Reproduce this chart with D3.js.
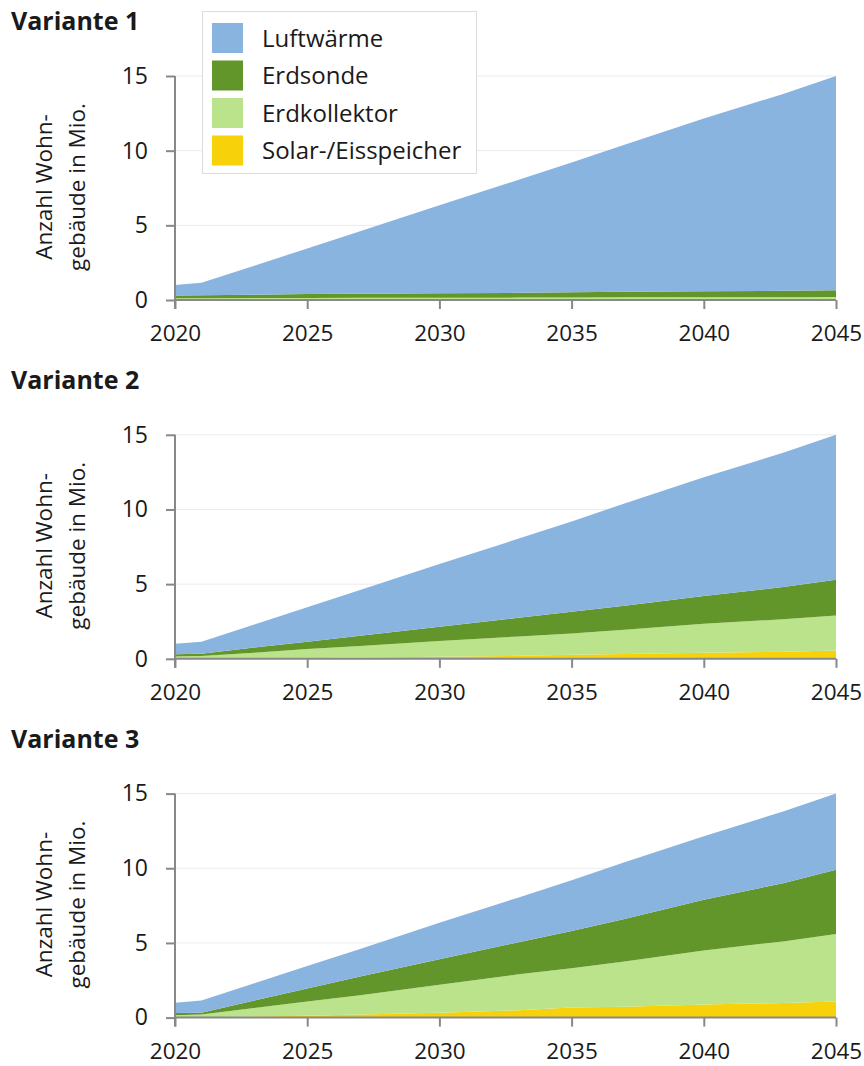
<!DOCTYPE html>
<html><head><meta charset="utf-8">
<script src="https://cdn.jsdelivr.net/npm/d3@7/dist/d3.min.js"></script>
<style>body{margin:0;background:#fff}svg{display:block}text{font-family:"Open Sans","Noto Sans",sans-serif;fill:#1a1a1a}</style>
</head><body>
<script>
const years = [2020,2021,2023,2025,2027,2030,2033,2035,2037,2040,2043,2045];
const seriesNames = ["Luftwärme","Erdsonde","Erdkollektor","Solar-/Eisspeicher"];
const seriesKeys = ["luft","sonde","koll","solar"];
const colors = ["#8ab4e0","#62962a","#bbe38c","#f7d20a"];
const yTicks = [0,5,10,15];
const xTicks = [2020,2025,2030,2035,2040,2045];
const titles = ["Variante 1","Variante 2","Variante 3"];

// Variante 1 (Mio. Wohngebäude)
const luft1  = [0.70,0.83,1.95,3.05,4.18,5.90,7.57,8.68,9.85,11.57,13.18,14.34];
const sonde1 = [0.18,0.20,0.22,0.26,0.27,0.30,0.32,0.35,0.37,0.40,0.43,0.46];
const koll1  = [0.11,0.11,0.12,0.13,0.14,0.14,0.14,0.15,0.16,0.16,0.17,0.18];
const solar1 = [0.01,0.01,0.01,0.01,0.01,0.01,0.02,0.02,0.02,0.02,0.02,0.02];
// Variante 2
const luft2  = [0.70,0.82,1.55,2.30,3.05,4.20,5.30,6.05,6.85,7.95,9.00,9.70];
const sonde2 = [0.15,0.15,0.35,0.50,0.70,0.95,1.25,1.45,1.60,1.85,2.15,2.40];
const koll2  = [0.13,0.16,0.37,0.60,0.77,1.07,1.30,1.43,1.63,1.95,2.17,2.35];
const solar2 = [0.02,0.02,0.03,0.05,0.08,0.13,0.20,0.27,0.32,0.40,0.48,0.55];
// Variante 3
const luft3  = [0.70,0.82,1.15,1.50,1.85,2.45,3.00,3.40,3.80,4.25,4.80,5.10];
const sonde3 = [0.15,0.13,0.50,0.88,1.25,1.70,2.15,2.50,2.85,3.40,3.90,4.30];
const koll3  = [0.13,0.18,0.57,0.94,1.30,1.87,2.40,2.63,3.03,3.63,4.12,4.53];
const solar3 = [0.02,0.02,0.08,0.13,0.20,0.33,0.50,0.67,0.72,0.87,0.98,1.07];

const variants = [
  {luft:luft1,sonde:sonde1,koll:koll1,solar:solar1},
  {luft:luft2,sonde:sonde2,koll:koll2,solar:solar2},
  {luft:luft3,sonde:sonde3,koll:koll3,solar:solar3}
];

const W = 864, H = 1066;
const svg = d3.select("body").append("svg").attr("width",W).attr("height",H);
const x = d3.scaleLinear().domain([2020,2045]).range([175,836]);

variants.forEach((v,i)=>{
  const off = i*358.8;
  const y = d3.scaleLinear().domain([0,15]).range([300+off,76+off]);
  const g = svg.append("g");
  // title
  g.append("text").attr("x",11).attr("y",30+off).attr("font-size",25).attr("font-weight",700)
    .text(titles[i]);
  // gridlines
  g.selectAll(".grid").data(yTicks.filter(t=>t>0)).join("line")
    .attr("x1",175).attr("x2",836).attr("y1",d=>y(d)).attr("y2",d=>y(d))
    .attr("stroke","#ebebeb").attr("stroke-width",1);
  // stacked areas
  const table = years.map((yr,j)=>{const o={year:yr}; seriesKeys.forEach(k=>o[k]=v[k][j]); return o;});
  const stack = d3.stack().keys(seriesKeys.slice().reverse());
  const layers = stack(table);
  const area = d3.area().x(d=>x(d.data.year)).y0(d=>y(d[0])).y1(d=>y(d[1]));
  g.selectAll(".layer").data(layers).join("path")
    .attr("d",area)
    .attr("fill",d=>colors[seriesKeys.indexOf(d.key)]);
  // y axis
  const ya = d3.axisLeft(y).tickValues(yTicks).tickSize(9).tickPadding(18);
  const yg = g.append("g").attr("transform","translate(175,0)").call(ya);
  yg.select(".domain").attr("d",`M0,${y(15)}V${y(0)+9}`).attr("stroke","#888").attr("stroke-width",2);
  yg.selectAll(".tick line").attr("stroke","#888").attr("stroke-width",2);
  yg.selectAll(".tick text").attr("font-size",23).attr("fill","#1a1a1a").attr("font-family",null);
  // x axis
  const xa = d3.axisBottom(x).tickValues(xTicks).tickFormat(d3.format("d")).tickSize(9).tickPadding(16);
  const xg = g.append("g").attr("transform",`translate(0,${y(0)})`).call(xa);
  xg.select(".domain").attr("d","M175,0H836").attr("stroke","#888").attr("stroke-width",2);
  xg.selectAll(".tick line").attr("stroke","#888").attr("stroke-width",2);
  xg.selectAll(".tick text").attr("font-size",22.5).attr("fill","#1a1a1a").attr("font-family",null);
  // y label
  const cy = (y(0)+y(15))/2 - 1;
  const lab = g.append("text").attr("transform",`translate(52,${cy}) rotate(-90)`)
    .attr("text-anchor","middle").attr("font-size",22.5);
  lab.append("tspan").attr("x",0).attr("y",0).text("Anzahl Wohn-");
  lab.append("tspan").attr("x",0).attr("y",33).text("gebäude in Mio.");
});

// legend
const lg = svg.append("g");
lg.append("rect").attr("x",202.5).attr("y",11.5).attr("width",274).attr("height",162)
  .attr("fill","#fff").attr("stroke","#dcdcdc");
seriesNames.forEach((n,i)=>{
  lg.append("rect").attr("x",212).attr("y",23+i*37.5).attr("width",31).attr("height",30).attr("fill",colors[i]);
  lg.append("text").attr("x",262).attr("y",47+i*37.3).attr("font-size",24).text(n);
});
</script>
</body></html>
